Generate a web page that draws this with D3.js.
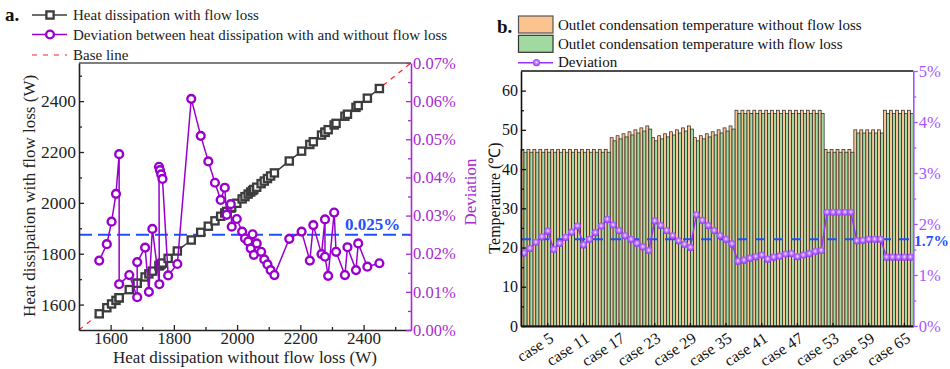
<!DOCTYPE html>
<html><head><meta charset="utf-8">
<script src="https://cdn.jsdelivr.net/npm/d3@7"></script>
<style>body{margin:0;background:#fff;overflow:hidden} svg{font-family:"Liberation Serif","Times New Roman",serif}</style>
</head><body><svg id="c" width="950" height="369"></svg>
<script>
// ---------- Panel a data ----------
const heatWithout = [1564,1588,1603,1617,1627,1627,1659,1684,1684,1709,1721,1732,1754,1753,1756,1760,1764,1782,1811,
  1855,1885,1909,1930,1948,1961,1967,1980,1983,1999,2016,2025,2035,2043,2049,2053,2062,2076,2086,2096,2106,2118,
  2165,2204,2230,2241,2267,2278,2278,2288,2307,2313,2341,2349,2376,2383,2412,2450];
const heatWith = [1563.7,1587.6,1602.5,1616.4,1626.3,1626.8,1658.8,1683.9,1683.7,1708.6,1720.8,1731.5,1753.8,1752.3,1755.3,1759.3,1763.3,1781.7,1810.7,
  1853.9,1884.0,1908.2,1929.3,1947.3,1960.3,1966.4,1979.3,1982.5,1998.4,2015.5,2024.5,2034.5,2042.6,2048.5,2052.6,2061.5,2075.6,2085.6,2095.6,2105.7,2117.7,
  2164.5,2203.4,2229.6,2240.4,2266.5,2277.3,2277.6,2287.7,2306.3,2312.5,2340.7,2348.5,2375.6,2382.5,2411.6,2449.6];
const heatDev = [0.0182,0.0225,0.0284,0.0357,0.0461,0.0120,0.0144,0.0086,0.0178,0.0216,0.0100,0.0265,0.0120,0.0428,0.0419,0.0408,0.0396,0.0143,0.0173,
  0.0606,0.0509,0.0442,0.0386,0.0341,0.0373,0.0302,0.0330,0.0271,0.0291,0.0258,0.0240,0.0232,0.0214,0.0251,0.0197,0.0227,0.0205,0.0185,0.0172,0.0157,0.0144,
  0.0239,0.0258,0.0182,0.0275,0.0199,0.0290,0.0192,0.0142,0.0308,0.0205,0.0144,0.0217,0.0157,0.0227,0.0166,0.0175];
const axisA = [1600,1800,2000,2200,2400];
const axisAMinor = [1700,1900,2100,2300,2500];
const devTicks = [0,0.01,0.02,0.03,0.04,0.05,0.06,0.07];
const devAvg = 0.025;

// ---------- Panel b data ----------
const cases = d3.range(1,67).map(i=>"case "+i);
const tempWithout = [45,45,45,45,45,45,45,45,45,45,45,45,45,45,45,
  48,48.5,49,49.5,50,50.5,51, 48,48.5,49,49.5,50,50.5,51, 48,48.5,49,49.5,50,50.5,51,
  55,55,55,55,55,55,55,55,55,55,55,55,55,55,55, 45,45,45,45,45, 50,50,50,50,50, 55,55,55,55,55];
const tempWith = [44.3,44.3,44.3,44.3,44.3,44.3,44.3,44.3,44.3,44.3,44.3,44.3,44.3,44.3,44.3,
  47.2,47.7,48.2,48.7,49.2,49.7,50.2, 47.2,47.7,48.2,48.7,49.2,49.7,50.2, 47.2,47.7,48.2,48.7,49.2,49.7,50.2,
  54.2,54.2,54.2,54.2,54.2,54.2,54.2,54.2,54.2,54.2,54.2,54.2,54.2,54.2,54.2, 44.3,44.3,44.3,44.3,44.3, 49.2,49.2,49.2,49.2,49.2, 54.2,54.2,54.2,54.2,54.2];
const tempDev = [1.43,1.52,1.64,1.75,1.86, 1.50,1.62,1.74,1.84,1.96, 1.59,1.70,1.83,1.96,2.09,
  1.98,1.87,1.77,1.70,1.62,1.55,1.48, 2.06,1.97,1.87,1.77,1.67,1.60,1.54, 2.18,2.07,1.97,1.87,1.77,1.70,1.61,
  1.27,1.29,1.33,1.36,1.39, 1.31,1.35,1.37,1.41,1.42, 1.36,1.39,1.42,1.46,1.48,
  2.23,2.23,2.23,2.23,2.23, 1.67,1.68,1.70,1.70,1.70, 1.35,1.35,1.35,1.35,1.35];
const caseLabels = ["case 5","case 11","case 17","case 23","case 29","case 35","case 41","case 47","case 53","case 59","case 65"];
const tempTicks = [0,10,20,30,40,50,60];
const tempMinor = [5,15,25,35,45,55];
const pctTicks = [0,1,2,3,4,5];
const pctMinor = [0.5,1.5,2.5,3.5,4.5];
const pctAvg = 1.7;

const svg = d3.select("#c");
const PURPLE = "#9900CC", PURPLE_T = "#A62BD0", VIOLET = "#9933FF", VIOLET_T = "#A855FF", BLUE = "#1E50FF";
const ORANGE = "#FBC48E", GREEN = "#A2D9A0", GRAY = "#3C3C3C";

const defs = svg.append("defs");
const rg = defs.append("radialGradient").attr("id","ball").attr("cx","50%").attr("cy","45%").attr("r","55%");
rg.append("stop").attr("offset","0%").attr("stop-color","#F2E4FF");
rg.append("stop").attr("offset","35%").attr("stop-color","#C58CFF");
rg.append("stop").attr("offset","100%").attr("stop-color","#9330F2");

// =============== Panel a ===============
const xL = d3.scaleLinear().domain([1500,2550]).range([79,411]);
const yL = d3.scaleLinear().domain([1500,2550]).range([330,63]);
const yD = d3.scaleLinear().domain([0,0.07]).range([330,63]);

const ga = svg.append("g");
ga.append("line").attr("x1",79).attr("x2",411).attr("y1",63).attr("y2",63).attr("stroke","#555").attr("stroke-width",1.6);
ga.append("line").attr("x1",xL(1500)).attr("y1",yL(1500)).attr("x2",xL(2550)).attr("y2",yL(2550))
  .attr("stroke","#FF2020").attr("stroke-width",1.2).attr("stroke-dasharray","5,5");
ga.append("line").attr("x1",79).attr("x2",411).attr("y1",yD(devAvg)).attr("y2",yD(devAvg))
  .attr("stroke",BLUE).attr("stroke-width",2).attr("stroke-dasharray","13,6");
ga.append("text").attr("x",345).attr("y",yD(devAvg)-5).attr("fill",BLUE).attr("font-weight","bold").attr("font-size",17).text("0.025%");

function styleAxis(g, color, fs){
  g.selectAll("path").attr("stroke",color).attr("stroke-width",1.6);
  g.selectAll("line").attr("stroke",color).attr("stroke-width",1.3);
  g.selectAll("text").attr("fill",color).attr("font-size",fs).attr("font-family","Liberation Serif, Times New Roman, serif");
}
const axB = ga.append("g").attr("transform","translate(0,330)")
  .call(d3.axisBottom(xL).tickValues(axisA).tickSizeInner(-5).tickSizeOuter(0).tickPadding(2).tickFormat(d3.format("d")));
styleAxis(axB,"#222",17);
const axBm = ga.append("g").attr("transform","translate(0,330)")
  .call(d3.axisBottom(xL).tickValues(axisAMinor).tickSizeInner(-3).tickSizeOuter(0).tickFormat(""));
styleAxis(axBm,"#222",10); axBm.select("path").remove();
const axLf = ga.append("g").attr("transform","translate(79,0)")
  .call(d3.axisLeft(yL).tickValues(axisA).tickSizeInner(-5).tickSizeOuter(0).tickPadding(3).tickFormat(d3.format("d")));
styleAxis(axLf,"#222",17.5);
const axLfm = ga.append("g").attr("transform","translate(79,0)")
  .call(d3.axisLeft(yL).tickValues(axisAMinor).tickSizeInner(-3).tickSizeOuter(0).tickFormat(""));
styleAxis(axLfm,"#222",10); axLfm.select("path").remove();
const axR = ga.append("g").attr("transform","translate(411,0)")
  .call(d3.axisRight(yD).tickValues(devTicks).tickSizeInner(-5).tickSizeOuter(0).tickPadding(2).tickFormat(d=>d.toFixed(2)+"%"));
styleAxis(axR,PURPLE_T,16.5);
const axRm = ga.append("g").attr("transform","translate(411,0)")
  .call(d3.axisRight(yD).tickValues(devTicks.slice(0,-1).map(d=>d+0.005)).tickSizeInner(-3).tickSizeOuter(0).tickFormat(""));
styleAxis(axRm,PURPLE_T,10); axRm.select("path").remove();

ga.append("text").attr("x",245).attr("y",363).attr("text-anchor","middle").attr("font-size",17).attr("fill","#222")
  .text("Heat dissipation without flow loss  (W)");
ga.append("text").attr("transform","translate(35,196) rotate(-90)").attr("text-anchor","middle").attr("font-size",17).attr("fill","#222")
  .text("Heat dissipation with flow loss (W)");
ga.append("text").attr("transform","translate(476,192) rotate(-90)").attr("text-anchor","middle").attr("font-size",17).attr("fill",PURPLE_T)
  .text("Deviation");

const idx = d3.range(heatWithout.length);
ga.append("path").attr("d",d3.line().x(i=>xL(heatWithout[i])).y(i=>yL(heatWith[i]))(idx))
  .attr("fill","none").attr("stroke",GRAY).attr("stroke-width",1.5);
ga.selectAll("rect.sq").data(idx).join("rect").attr("class","sq")
  .attr("x",i=>xL(heatWithout[i])-3.6).attr("y",i=>yL(heatWith[i])-3.6).attr("width",7.2).attr("height",7.2)
  .attr("fill","#fff").attr("stroke",GRAY).attr("stroke-width",2.3);
ga.append("path").attr("d",d3.line().x(i=>xL(heatWithout[i])).y(i=>yD(heatDev[i]))(idx))
  .attr("fill","none").attr("stroke",PURPLE).attr("stroke-width",1.5);
ga.selectAll("circle.dv").data(idx).join("circle").attr("class","dv")
  .attr("cx",i=>xL(heatWithout[i])).attr("cy",i=>yD(heatDev[i])).attr("r",3.9)
  .attr("fill","#fff").attr("stroke",PURPLE).attr("stroke-width",2.4);

ga.append("text").attr("x",5).attr("y",21).attr("font-weight","bold").attr("font-size",19).attr("fill","#111").text("a.");
ga.append("line").attr("x1",32).attr("x2",67).attr("y1",15).attr("y2",15).attr("stroke",GRAY).attr("stroke-width",1.5);
ga.append("rect").attr("x",46.4).attr("y",11.4).attr("width",7.2).attr("height",7.2).attr("fill","#fff").attr("stroke",GRAY).attr("stroke-width",2.3);
ga.append("text").attr("x",73).attr("y",20).attr("font-size",15).attr("fill","#222").text("Heat dissipation with flow loss");
ga.append("line").attr("x1",32).attr("x2",67).attr("y1",34.5).attr("y2",34.5).attr("stroke",PURPLE).attr("stroke-width",1.5);
ga.append("circle").attr("cx",50).attr("cy",34.5).attr("r",3.9).attr("fill","#fff").attr("stroke",PURPLE).attr("stroke-width",2.4);
ga.append("text").attr("x",73).attr("y",39.5).attr("font-size",15).attr("fill","#222").text("Deviation between heat dissipation with and without flow loss");
ga.append("line").attr("x1",32).attr("x2",67).attr("y1",55).attr("y2",55).attr("stroke","#FF2020").attr("stroke-width",1.2).attr("stroke-dasharray","5,6");
ga.append("text").attr("x",73).attr("y",60).attr("font-size",15).attr("fill","#222").text("Base line");

// =============== Panel b ===============
const xR = d3.scaleBand().domain(cases).range([521,913.3]).padding(0);
const bw = xR.bandwidth();
const yT = d3.scaleLinear().domain([0,65]).range([326,71]);
const yP = d3.scaleLinear().domain([0,5]).range([326,71]);
const gb = svg.append("g");

gb.selectAll("rect.o").data(cases).join("rect").attr("class","o")
  .attr("x",(c)=>xR(c)).attr("width",bw/2).attr("y",(c,i)=>yT(tempWithout[i])).attr("height",(c,i)=>yT(0)-yT(tempWithout[i]))
  .attr("fill",ORANGE).attr("stroke","#222").attr("stroke-width",0.7);
gb.selectAll("rect.g").data(cases).join("rect").attr("class","g")
  .attr("x",(c)=>xR(c)+bw/2).attr("width",bw/2).attr("y",(c,i)=>yT(tempWith[i])).attr("height",(c,i)=>yT(0)-yT(tempWith[i]))
  .attr("fill",GREEN).attr("stroke","#222").attr("stroke-width",0.7);

gb.append("line").attr("x1",521).attr("x2",913.3).attr("y1",71).attr("y2",71).attr("stroke","#111").attr("stroke-width",1.6);

gb.append("line").attr("x1",521).attr("x2",913.3).attr("y1",yP(pctAvg)).attr("y2",yP(pctAvg))
  .attr("stroke",BLUE).attr("stroke-width",2).attr("stroke-dasharray","10,8");

gb.append("path").attr("d",d3.line().x((c)=>xR(c)+bw/2).y((c,i)=>yP(tempDev[i]))(cases))
  .attr("fill","none").attr("stroke",VIOLET).attr("stroke-width",1.5);
gb.selectAll("circle.b").data(cases).join("circle").attr("class","b")
  .attr("cx",c=>xR(c)+bw/2).attr("cy",(c,i)=>yP(tempDev[i])).attr("r",3.6).attr("fill","url(#ball)");

const bB = gb.append("g").attr("transform","translate(0,326)")
  .call(d3.axisBottom(xR).tickValues(caseLabels).tickSizeInner(-3).tickSizeOuter(0).tickFormat(""));
styleAxis(bB,"#111",16);
bB.select("path").attr("stroke-width",2);
gb.selectAll("text.cl").data(caseLabels).join("text").attr("class","cl")
  .attr("transform",c=>`translate(${xR(c)+bw/2+7},341) rotate(-33)`).attr("text-anchor","end")
  .attr("font-size",16).attr("fill","#111").text(c=>c);
const bL = gb.append("g").attr("transform","translate(521,0)")
  .call(d3.axisLeft(yT).tickValues(tempTicks).tickSizeInner(-5).tickSizeOuter(0).tickPadding(3));
styleAxis(bL,"#111",16);
const bLm = gb.append("g").attr("transform","translate(521,0)")
  .call(d3.axisLeft(yT).tickValues(tempMinor).tickSizeInner(-3).tickSizeOuter(0).tickFormat(""));
styleAxis(bLm,"#111",10); bLm.select("path").remove();
const bR = gb.append("g").attr("transform","translate(913.3,0)")
  .call(d3.axisRight(yP).tickValues(pctTicks).tickSizeInner(4.5).tickSizeOuter(0).tickPadding(1).tickFormat(d=>d+"%"));
styleAxis(bR,VIOLET_T,16.5);
const bRm = gb.append("g").attr("transform","translate(913.3,0)")
  .call(d3.axisRight(yP).tickValues(pctMinor).tickSizeInner(3).tickSizeOuter(0).tickFormat(""));
styleAxis(bRm,VIOLET_T,10); bRm.select("path").remove();

gb.append("text").attr("x",914).attr("y",yP(pctAvg)+7).attr("fill",BLUE).attr("font-weight","bold").attr("font-size",15.5).text("1.7%");
gb.append("text").attr("transform","translate(500,198) rotate(-90)").attr("text-anchor","middle").attr("font-size",16).attr("fill","#111")
  .text("Temperature (℃)");

gb.append("text").attr("x",497).attr("y",33).attr("font-weight","bold").attr("font-size",19).attr("fill","#111").text("b.");
gb.append("rect").attr("x",518.5).attr("y",16).attr("width",34.5).attr("height",17).attr("fill",ORANGE).attr("stroke","#555").attr("stroke-width",1.2);
gb.append("rect").attr("x",518.5).attr("y",35.3).attr("width",34.5).attr("height",17).attr("fill",GREEN).attr("stroke","#333").attr("stroke-width",1.2);
gb.append("text").attr("x",558).attr("y",30).attr("font-size",15).attr("fill","#111").text("Outlet condensation temperature without flow loss");
gb.append("text").attr("x",558).attr("y",48.5).attr("font-size",15).attr("fill","#111").text("Outlet condensation temperature with flow loss");
gb.append("line").attr("x1",518).attr("x2",553).attr("y1",62.7).attr("y2",62.7).attr("stroke",VIOLET).attr("stroke-width",1.5);
gb.append("circle").attr("cx",536.5).attr("cy",62.7).attr("r",3.6).attr("fill","url(#ball)");
gb.append("text").attr("x",558).attr("y",67).attr("font-size",15).attr("fill","#111").text("Deviation");
</script></body></html>
